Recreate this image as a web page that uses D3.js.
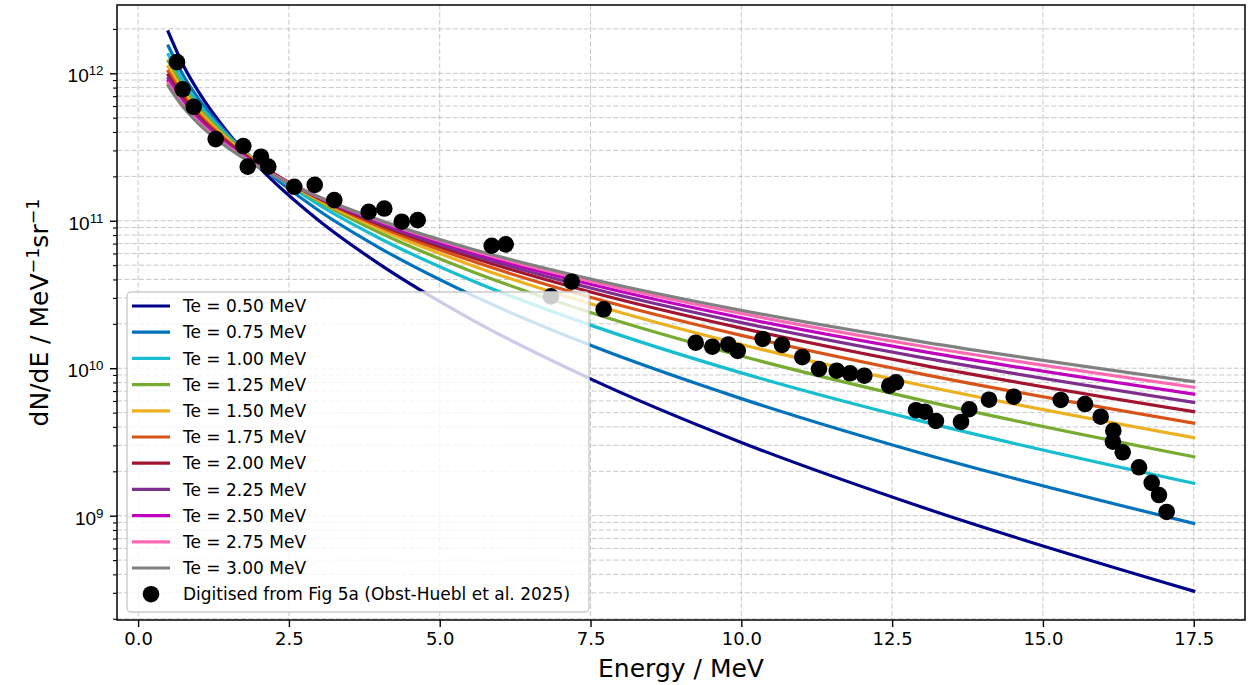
<!DOCTYPE html>
<html><head><meta charset="utf-8">
<script src="https://cdn.jsdelivr.net/npm/d3@7"></script>
<style>
body{margin:0;background:#fff;}
svg{display:block;font-family:"DejaVu Sans",sans-serif;}
</style>
</head><body>
<svg id="chart" width="1248" height="685"></svg>
<script>
// ---------- data ----------
const energies = [0.5, 0.75, 1, 1.5, 2, 3, 4, 5.5, 7.5, 10, 13, 17.5];
const teLabels = ["0.50", "0.75", "1.00", "1.25", "1.50", "1.75", "2.00", "2.25", "2.50", "2.75", "3.00"];
const te050 = [1.91e12, 1.13e12, 7.51e11, 3.91e11, 2.32e11, 1.00e11, 5.08e10, 2.17e10, 8.47e9, 3.14e9, 1.14e9, 3.08e8];
const te075 = [1.53e12, 9.65e11, 6.72e11, 3.80e11, 2.41e11, 1.17e11, 6.56e10, 3.18e10, 1.43e10, 6.22e9, 2.64e9, 8.87e8];
const te100 = [1.34e12, 8.74e11, 6.26e11, 3.72e11, 2.46e11, 1.28e11, 7.61e10, 3.98e10, 1.96e10, 9.30e9, 4.36e9, 1.66e9];
const te125 = [1.21e12, 8.06e11, 5.89e11, 3.62e11, 2.47e11, 1.35e11, 8.32e10, 4.58e10, 2.39e10, 1.21e10, 6.05e9, 2.51e9];
const te150 = [1.11e12, 7.53e11, 5.58e11, 3.52e11, 2.45e11, 1.38e11, 8.80e10, 5.04e10, 2.74e10, 1.45e10, 7.64e9, 3.38e9];
const te175 = [1.03e12, 7.10e11, 5.33e11, 3.42e11, 2.42e11, 1.41e11, 9.14e10, 5.39e10, 3.03e10, 1.67e10, 9.12e9, 4.24e9];
const te200 = [9.72e11, 6.77e11, 5.13e11, 3.35e11, 2.40e11, 1.42e11, 9.43e10, 5.70e10, 3.29e10, 1.87e10, 1.05e10, 5.08e9];
const te225 = [9.21e11, 6.48e11, 4.94e11, 3.27e11, 2.37e11, 1.43e11, 9.63e10, 5.93e10, 3.50e10, 2.04e10, 1.18e10, 5.87e9];
const te250 = [8.84e11, 6.26e11, 4.81e11, 3.21e11, 2.35e11, 1.44e11, 9.83e10, 6.16e10, 3.71e10, 2.20e10, 1.30e10, 6.67e9];
const te275 = [8.52e11, 6.08e11, 4.69e11, 3.16e11, 2.33e11, 1.45e11, 1.00e11, 6.35e10, 3.89e10, 2.35e10, 1.41e10, 7.43e9];
const te300 = [8.20e11, 5.88e11, 4.56e11, 3.10e11, 2.30e11, 1.45e11, 1.01e11, 6.49e10, 4.03e10, 2.47e10, 1.51e10, 8.11e9];

const dataEnergy = [0.645, 0.739, 0.922, 1.286, 1.744, 1.817, 2.037, 2.158, 2.589, 2.928, 3.252, 3.823, 4.081, 4.370, 4.635,
  5.862, 6.094, 6.845, 7.188, 7.718, 9.244, 9.519, 9.784, 9.940, 10.354, 10.674, 11.011, 11.288, 11.581, 11.802, 12.039,
  12.453, 12.564, 12.896, 13.045, 13.227, 13.642, 13.779, 14.106, 14.515, 15.295, 15.698, 15.958, 16.167, 16.160, 16.323,
  16.593, 16.803, 16.924, 17.052];
const dataFlux = [1.19e12, 7.79e11, 5.93e11, 3.58e11, 3.21e11, 2.33e11, 2.72e11, 2.33e11, 1.70e11, 1.75e11, 1.38e11, 1.15e11,
  1.21e11, 9.85e10, 1.01e11, 6.77e10, 6.92e10, 3.07e10, 3.86e10, 2.51e10, 1.49e10, 1.40e10, 1.45e10, 1.31e10, 1.58e10,
  1.44e10, 1.19e10, 9.88e9, 9.62e9, 9.24e9, 8.90e9, 7.61e9, 8.03e9, 5.19e9, 5.07e9, 4.39e9, 4.32e9, 5.27e9, 6.12e9, 6.41e9,
  6.09e9, 5.72e9, 4.69e9, 3.77e9, 3.18e9, 2.69e9, 2.13e9, 1.67e9, 1.38e9, 1.06e9];
const dataLabel = "Digitised from Fig 5a (Obst-Huebl et al. 2025)";

const xTicks = [0, 2.5, 5, 7.5, 10, 12.5, 15, 17.5];
const yTicks = [1e9, 1e10, 1e11, 1e12];
const yTickExponents = ["9", "10", "11", "12"];
const colors = ["#00008b", "#0072bd", "#17becf", "#77ac30", "#edb120", "#d95319", "#a2142f", "#7e2f8e", "#bf00bf", "#ff69b4", "#808080"];

// ---------- layout ----------
const L = 117, R = 1245, T = 5, B = 620;
const svg = d3.select("#chart");
const x = d3.scaleLinear().domain([-0.35, 18.35]).range([L, R]);
const y = d3.scaleLog().domain([1.962e8, 2.905e12]).range([B, T]);

const series = [te050, te075, te100, te125, te150, te175, te200, te225, te250, te275, te300].map((vals, i) => ({
  label: "Te = " + teLabels[i] + " MeV", color: colors[i],
  pts: energies.map((e, j) => [e, vals[j]])
}));

// minor tick positions (decade subdivisions)
const minorTicks = [];
for (let k = 8; k <= 12; k++) for (let m = 2; m <= 9; m++) {
  const v = m * Math.pow(10, k);
  if (v > y.domain()[0] && v < y.domain()[1]) minorTicks.push(v);
}

// ---------- grid ----------
const grid = svg.append("g").attr("stroke", "#b0b0b0").attr("stroke-opacity", 0.7)
  .attr("stroke-width", 1).attr("stroke-dasharray", "5,2.3").attr("fill", "none");
grid.selectAll("line.gy").data(yTicks.concat(minorTicks)).join("line")
  .attr("x1", L).attr("x2", R).attr("y1", d => y(d)).attr("y2", d => y(d));
grid.selectAll("line.gx").data(xTicks).join("line")
  .attr("y1", T).attr("y2", B).attr("x1", d => x(d)).attr("x2", d => x(d));

// ---------- curves ----------
const line = d3.line().x(d => x(d[0])).y(d => y(d[1])).curve(d3.curveMonotoneX);
svg.append("g").selectAll("path").data(series).join("path")
  .attr("d", d => line(d.pts)).attr("fill", "none")
  .attr("stroke", d => d.color).attr("stroke-width", 3.2).attr("stroke-linecap", "square");

// ---------- data points ----------
svg.append("g").selectAll("circle").data(dataEnergy.map((e, i) => [e, dataFlux[i]])).join("circle")
  .attr("cx", d => x(d[0])).attr("cy", d => y(d[1])).attr("r", 8.3).attr("fill", "#000");

// ---------- axes ----------
const xAxis = svg.append("g").attr("transform", `translate(0,${B})`)
  .call(d3.axisBottom(x).tickValues(xTicks).tickFormat(d3.format(".1f")).tickSize(7).tickPadding(5));
xAxis.select(".domain").remove();
xAxis.selectAll("text").attr("font-size", 18).attr("font-family", "DejaVu Sans").attr("fill", "#000");
xAxis.selectAll("line").attr("stroke-width", 1.4);

const yAxis = svg.append("g").attr("transform", `translate(${L},0)`)
  .call(d3.axisLeft(y).tickValues(yTicks).tickFormat("").tickSize(7));
yAxis.select(".domain").remove();
yAxis.selectAll("line").attr("stroke-width", 1.4);
yAxis.selectAll(".tick").each(function (d, i) {
  const t = d3.select(this).append("text").attr("x", -13.5).attr("y", 8.6)
    .attr("text-anchor", "end").attr("fill", "#000").attr("font-size", 19);
  t.append("tspan").text("10");
  t.append("tspan").attr("dy", -7).attr("font-size", 13.3).text(yTickExponents[i]);
});
const yMinor = svg.append("g").attr("transform", `translate(${L},0)`)
  .call(d3.axisLeft(y).tickValues(minorTicks).tickFormat("").tickSize(4));
yMinor.select(".domain").remove();
yMinor.selectAll("line").attr("stroke-width", 1.1);

svg.append("rect").attr("x", L).attr("y", T).attr("width", R - L).attr("height", B - T)
  .attr("fill", "none").attr("stroke", "#000").attr("stroke-width", 1.5);

// axis labels
svg.append("text").attr("x", (L + R) / 2).attr("y", 677).attr("text-anchor", "middle")
  .attr("font-size", 25).text("Energy / MeV");
const yl = svg.append("text").attr("transform", `translate(48,${(T + B) / 2}) rotate(-90)`)
  .attr("text-anchor", "middle").attr("font-size", 25);
yl.append("tspan").text("dN/dE / MeV");
yl.append("tspan").attr("dy", -9.5).attr("font-size", 17.5).text("\u22121");
yl.append("tspan").attr("dy", 9.5).text("sr");
yl.append("tspan").attr("dy", -9.5).attr("font-size", 17.5).text("\u22121");

// ---------- legend ----------
const lg = svg.append("g");
lg.append("rect").attr("x", 127).attr("y", 292).attr("width", 462).attr("height", 320).attr("rx", 4)
  .attr("fill", "#fff").attr("fill-opacity", 0.8).attr("stroke", "#cccccc").attr("stroke-width", 1.4);
const entryY = i => 306 + i * 26.2;
series.forEach((s, i) => {
  lg.append("line").attr("x1", 132).attr("x2", 170).attr("y1", entryY(i)).attr("y2", entryY(i))
    .attr("stroke", s.color).attr("stroke-width", 3.2);
  lg.append("text").attr("x", 183).attr("y", entryY(i)).attr("dy", "0.36em")
    .attr("font-size", 17).text(s.label);
});
lg.append("circle").attr("cx", 151).attr("cy", entryY(11)).attr("r", 8.3).attr("fill", "#000");
lg.append("text").attr("x", 183).attr("y", entryY(11)).attr("dy", "0.36em").attr("font-size", 17).text(dataLabel);
</script>
</body></html>
